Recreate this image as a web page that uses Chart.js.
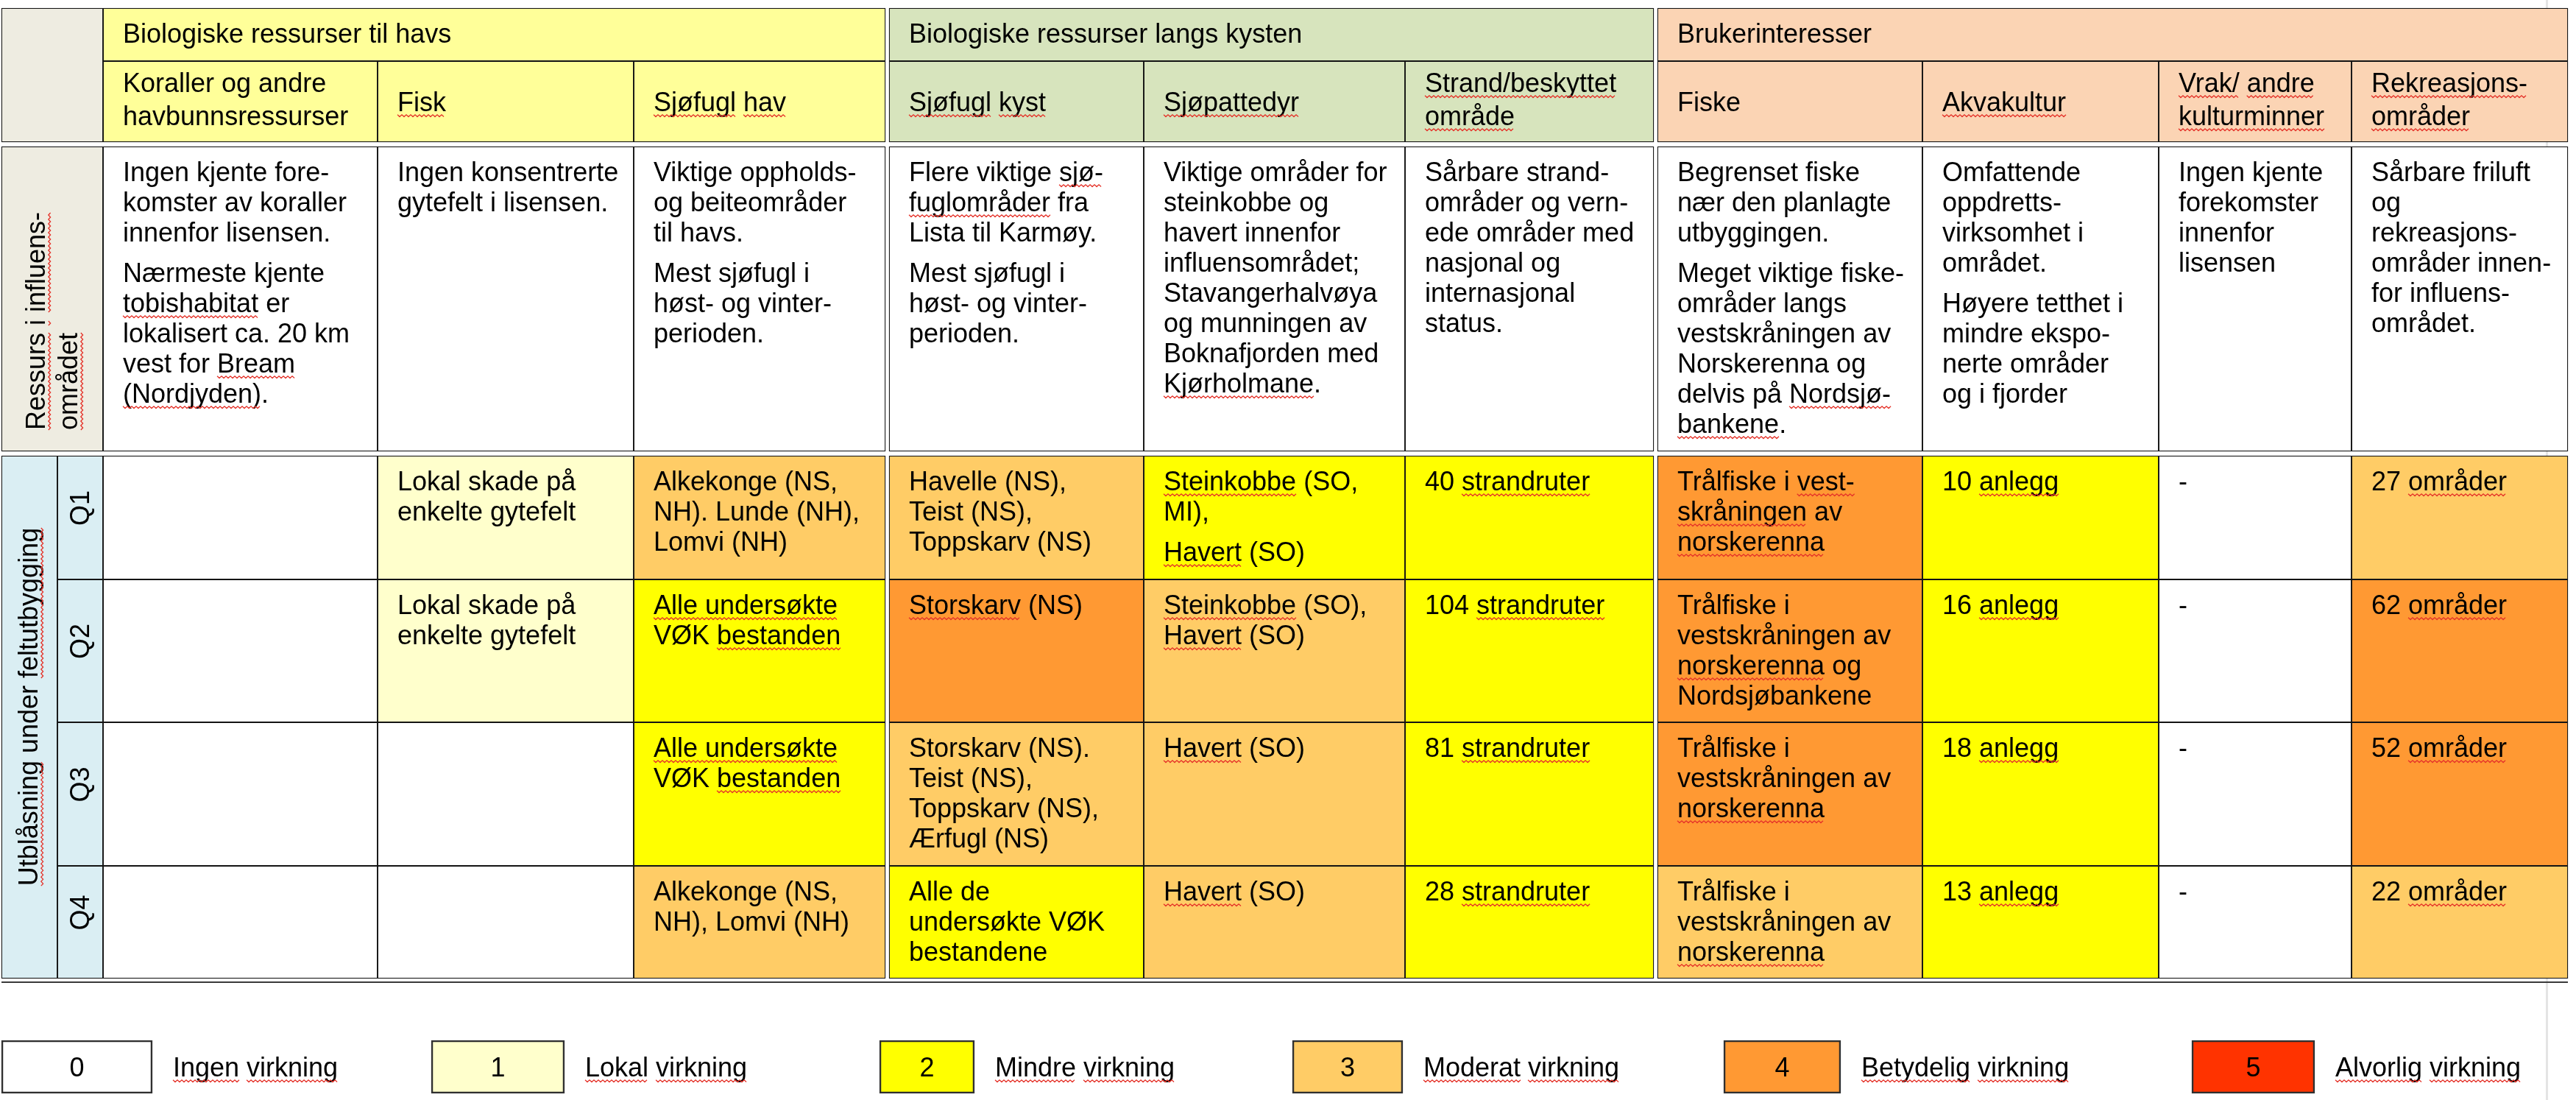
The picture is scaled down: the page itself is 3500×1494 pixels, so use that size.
<!DOCTYPE html>
<html>
<head>
<meta charset="utf-8">
<script src="https://cdn.jsdelivr.net/npm/chart.js@4.4.1/dist/chart.umd.min.js"></script>
<style>
  html, body { margin: 0; padding: 0; background: #fff; }
  #wrap { width: 3500px; height: 1494px; }
</style>
</head>
<body>
<div id="wrap"><canvas id="impactChart"></canvas></div>
<script>
// ---- data (words in {} get the red spell-check squiggle) ----
const groups = ["Biologiske ressurser til havs", "Biologiske ressurser langs kysten", "Brukerinteresser"];
const resources = [
  ["Koraller og andre", "havbunnsressurser"], ["{Fisk}"], ["{Sjøfugl} {hav}"],
  ["{Sjøfugl} {kyst}"], ["{Sjøpattedyr}"], ["{Strand/beskyttet}", "{område}"],
  ["Fiske"], ["{Akvakultur}"], ["{Vrak/} {andre}", "{kulturminner}"], ["{Rekreasjons-}", "{områder}"]
];
const rowLabels = [["{Ressurs} {i} {influens-}", "{området}"], ["{Utblåsning} under {feltutbygging}"]];
const quarters = ["Q1", "Q2", "Q3", "Q4"];

const resourceNotes = [
  ["Ingen kjente fore-", "komster av koraller", "innenfor lisensen.", "", "Nærmeste kjente", "{tobishabitat} er", "lokalisert ca. 20 km", "vest for {Bream}", "{(Nordjyden)}."],
  ["Ingen konsentrerte", "gytefelt i lisensen."],
  ["Viktige oppholds-", "og beiteområder", "til havs.", "", "Mest sjøfugl i", "høst- og vinter-", "perioden."],
  ["Flere viktige {sjø-}", "{fuglområder} fra", "Lista til Karmøy.", "", "Mest sjøfugl i", "høst- og vinter-", "perioden."],
  ["Viktige områder for", "steinkobbe og", "havert innenfor", "influensområdet;", "Stavangerhalvøya", "og munningen av", "Boknafjorden med", "{Kjørholmane}."],
  ["Sårbare strand-", "områder og vern-", "ede områder med", "nasjonal og", "internasjonal", "status."],
  ["Begrenset fiske", "nær den planlagte", "utbyggingen.", "", "Meget viktige fiske-", "områder langs", "vestskråningen av", "Norskerenna og", "delvis på {Nordsjø-}", "{bankene}."],
  ["Omfattende", "oppdretts-", "virksomhet i", "området.", "", "Høyere tetthet i", "mindre ekspo-", "nerte områder", "og i fjorder"],
  ["Ingen kjente", "forekomster", "innenfor", "lisensen"],
  ["Sårbare friluft", "og", "rekreasjons-", "områder innen-", "for influens-", "området."]
];

// impact level per resource column (0 = ingen ... 5 = alvorlig)
const levelsQ1 = [0, 1, 3, 3, 2, 2, 4, 2, 0, 3];
const levelsQ2 = [0, 1, 2, 4, 3, 2, 4, 2, 0, 4];
const levelsQ3 = [0, 0, 2, 3, 3, 2, 4, 2, 0, 4];
const levelsQ4 = [0, 0, 3, 2, 3, 2, 3, 2, 0, 3];

const notesQ1 = [
  [], ["Lokal skade på", "enkelte gytefelt"], ["Alkekonge (NS,", "NH). Lunde (NH),", "Lomvi (NH)"],
  ["Havelle (NS),", "Teist (NS),", "Toppskarv (NS)"], ["{Steinkobbe} (SO,", "MI),", "", "{Havert} (SO)"],
  ["40 {strandruter}"], ["Trålfiske i {vest-}", "{skråningen} av", "{norskerenna}"], ["10 {anlegg}"], ["-"], ["27 {områder}"]
];
const notesQ2 = [
  [], ["Lokal skade på", "enkelte gytefelt"], ["{Alle undersøkte}", "VØK {bestanden}"],
  ["{Storskarv} (NS)"], ["{Steinkobbe} (SO),", "{Havert} (SO)"],
  ["104 {strandruter}"], ["Trålfiske i", "vestskråningen av", "{norskerenna} og", "Nordsjøbankene"], ["16 {anlegg}"], ["-"], ["62 {områder}"]
];
const notesQ3 = [
  [], [], ["{Alle undersøkte}", "VØK {bestanden}"],
  ["Storskarv (NS).", "Teist (NS),", "Toppskarv (NS),", "Ærfugl (NS)"], ["{Havert} (SO)"],
  ["81 {strandruter}"], ["Trålfiske i", "vestskråningen av", "{norskerenna}"], ["18 {anlegg}"], ["-"], ["52 {områder}"]
];
const notesQ4 = [
  [], [], ["Alkekonge (NS,", "NH), Lomvi (NH)"],
  ["Alle de", "undersøkte VØK", "bestandene"], ["{Havert} (SO)"],
  ["28 {strandruter}"], ["Trålfiske i", "vestskråningen av", "{norskerenna}"], ["13 {anlegg}"], ["-"], ["22 {områder}"]
];

const levelValues = [0, 1, 2, 3, 4, 5];
const levelLabels = ["{Ingen} {virkning}", "{Lokal} {virkning}", "{Mindre} {virkning}", "{Moderat} {virkning}", "{Betydelig} {virkning}", "{Alvorlig} {virkning}"];

// ---- layout and style ----
const levelColors = ["#FFFFFF", "#FFFFCC", "#FFFF00", "#FFCC66", "#FF9933", "#FF3300"];
const groupColors = ["#FFFF99", "#D7E4BD", "#FBD4B4"];
const beige = "#EEECE1";
const paleBlue = "#DAEEF3";
const colSpans = [[140, 513], [513, 861], [861, 1203], [1208, 1554], [1554, 1909], [1909, 2247],
                  [2252, 2612], [2612, 2933], [2933, 3195], [3195, 3489]];
const colGroup = [0, 0, 0, 1, 1, 1, 2, 2, 2, 2];
const headBand1 = [11, 83], headBand2 = [83, 193], resBand = [199, 613];
const quarterBands = [[619, 787], [787, 981], [981, 1176], [1176, 1329]];
const legendBand = [1413, 1485];
const legendSpans = [[2, 207], [586, 767], [1195, 1324], [1756, 1906], [2342, 2501], [2978, 3145]];

const SANS = '"Liberation Sans", Arial, sans-serif';
const FONT = "36px " + SANS;
const st = {
  group: { padX: 27, first: 47, lh: 44 },
  head: { padX: 27, lh: 45, centered: true },
  body: { padX: 27, first: 47, lh: 41, para: 14 },
  sideRes: { rotate: true, baseX: [59, 103], fromBottom: 29 },
  sideQ: { rotate: true, baseX: [49], dy: -14 },
  quarter: { rotate: true, baseX: [43], dy: -13 },
  legend: { legend: true }
};

function bandPx(chart, band) {
  const y = chart.scales.y;
  if (!y) return 10;
  return Math.abs(y.getPixelForValue(band[1]) - y.getPixelForValue(band[0]));
}

function cellRow(label, band, spans, colors, texts, styles, border) {
  return {
    label: label,
    data: spans.map(s => ({ x: s, y: (band[0] + band[1]) / 2 })),
    backgroundColor: colors,
    borderColor: border || "#141414",
    borderWidth: 1.3,
    borderSkipped: false,
    grouped: false,
    barThickness: ctx => bandPx(ctx.chart, band),
    cellText: texts,
    cellStyle: styles
  };
}

const groupSpans = groups.map((g, gi) => {
  const cols = colSpans.filter((c, i) => colGroup[i] === gi);
  return [cols[0][0], cols[cols.length - 1][1]];
});

function quarterRow(qi, levels, notes) {
  return cellRow(quarters[qi], quarterBands[qi],
    [[78, 140]].concat(colSpans),
    [paleBlue].concat(levels.map(l => levelColors[l])),
    [[quarters[qi]]].concat(notes),
    [st.quarter].concat(notes.map(() => st.body)));
}

const datasets = [
  cellRow("corner", [headBand1[0], headBand2[1]], [[2, 140]], [beige], [[]], [st.body]),
  cellRow("groups", headBand1, groupSpans, groupColors, groups.map(g => [g]), groups.map(() => st.group)),
  cellRow("resources", headBand2, colSpans, colGroup.map(g => groupColors[g]), resources, resources.map(() => st.head)),
  cellRow("ressurs", resBand, [[2, 140]].concat(colSpans), [beige].concat(colSpans.map(() => "#FFFFFF")),
    [rowLabels[0]].concat(resourceNotes), [st.sideRes].concat(resourceNotes.map(() => st.body))),
  cellRow("utblasning", [quarterBands[0][0], quarterBands[3][1]], [[2, 78]], [paleBlue], [rowLabels[1]], [st.sideQ]),
  quarterRow(0, levelsQ1, notesQ1),
  quarterRow(1, levelsQ2, notesQ2),
  quarterRow(2, levelsQ3, notesQ3),
  quarterRow(3, levelsQ4, notesQ4),
  Object.assign(cellRow("legend", legendBand, legendSpans, levelValues.map(v => levelColors[v]),
    levelValues.map(v => [String(v)]), levelValues.map(() => st.legend), "#303030"),
    { borderWidth: 2.6, sideLabels: levelLabels })
];

// ---- text helpers ----
function squiggle(ctx, x0, x1, y) {
  ctx.save();
  ctx.strokeStyle = "#E5332A";
  ctx.lineWidth = 1.3;
  ctx.beginPath();
  let k = 0;
  for (let x = x0; x <= x1; x += 3, k++) {
    const yy = y + (k % 2 ? 1.6 : -1.2);
    if (k === 0) ctx.moveTo(x, yy); else ctx.lineTo(x, yy);
  }
  ctx.stroke();
  ctx.restore();
}

function drawRich(ctx, line, x, y, center) {
  const segs = line.split(/(\{[^}]*\})/).filter(p => p).map(p => ({
    text: p.replace(/[{}]/g, ""), flag: p[0] === "{"
  }));
  const total = segs.reduce((w, s) => w + ctx.measureText(s.text).width, 0);
  let cx = center ? x - total / 2 : x;
  ctx.textAlign = "left";
  segs.forEach(s => {
    const w = ctx.measureText(s.text).width;
    ctx.fillText(s.text, cx, y);
    if (s.flag) squiggle(ctx, cx, cx + w, y + 6);
    cx += w;
  });
}

function drawCell(ctx, lines, style, box, side) {
  ctx.save();
  ctx.font = FONT;
  ctx.fillStyle = "#000";
  ctx.textBaseline = "alphabetic";
  if (style.legend) {
    drawRich(ctx, lines[0], (box.left + box.right) / 2, box.top + box.h / 2 + 13, true);
    drawRich(ctx, side, box.right + 28, box.top + box.h / 2 + 13, false);
  } else if (style.rotate) {
    lines.forEach((ln, i) => {
      ctx.save();
      if (style.fromBottom) {
        ctx.translate(box.left + style.baseX[i], box.top + box.h - style.fromBottom);
        ctx.rotate(-Math.PI / 2);
        drawRich(ctx, ln, 0, 0, false);
      } else {
        ctx.translate(box.left + style.baseX[i], box.top + box.h / 2 + style.dy);
        ctx.rotate(-Math.PI / 2);
        drawRich(ctx, ln, 0, 0, true);
      }
      ctx.restore();
    });
  } else {
    let y = box.top + (style.centered ? (lines.length === 1 ? 68 : 42) : style.first);
    lines.forEach(ln => {
      if (ln === "") { y += style.para || 0; return; }
      drawRich(ctx, ln, box.left + style.padX, y, false);
      y += style.lh;
    });
  }
  ctx.restore();
}

const cellTextPlugin = {
  id: "cellText",
  beforeDatasetsDraw(chart) {
    // faint page-margin rule at the right side
    const ctx = chart.ctx, x = chart.scales.x.getPixelForValue(3459);
    ctx.save();
    ctx.fillStyle = "#E4E4E4";
    ctx.fillRect(x, 0, 3, chart.height);
    ctx.restore();
  },
  afterDatasetsDraw(chart) {
    const ctx = chart.ctx;
    chart.data.datasets.forEach((ds, di) => {
      if (!ds.cellText) return;
      chart.getDatasetMeta(di).data.forEach((bar, i) => {
        const lines = ds.cellText[i];
        if (!lines || !lines.length) return;
        const p = bar.getProps(["x", "base", "y", "height"], true);
        const box = { left: Math.min(p.x, p.base), right: Math.max(p.x, p.base), top: p.y - p.height / 2, h: p.height };
        drawCell(ctx, lines, ds.cellStyle[i], box, ds.sideLabels ? ds.sideLabels[i] : null);
      });
    });
    // second rule of the double line under the table
    const xs = chart.scales.x, ys = chart.scales.y;
    ctx.save();
    ctx.strokeStyle = "#3a3a3a";
    ctx.lineWidth = 2;
    ctx.beginPath();
    ctx.moveTo(xs.getPixelForValue(2), ys.getPixelForValue(1334));
    ctx.lineTo(xs.getPixelForValue(3489), ys.getPixelForValue(1334));
    ctx.stroke();
    ctx.restore();
  }
};

new Chart(document.getElementById("impactChart"), {
  type: "bar",
  data: { datasets: datasets },
  options: {
    indexAxis: "y",
    responsive: true,
    maintainAspectRatio: false,
    animation: false,
    events: [],
    layout: { padding: 0 },
    scales: {
      x: { type: "linear", min: 0, max: 3500, offset: false, display: false },
      y: { type: "linear", min: 0, max: 1494, offset: false, reverse: true, display: false }
    },
    plugins: { legend: { display: false }, tooltip: { enabled: false } }
  },
  plugins: [cellTextPlugin]
});
</script>
</body>
</html>
